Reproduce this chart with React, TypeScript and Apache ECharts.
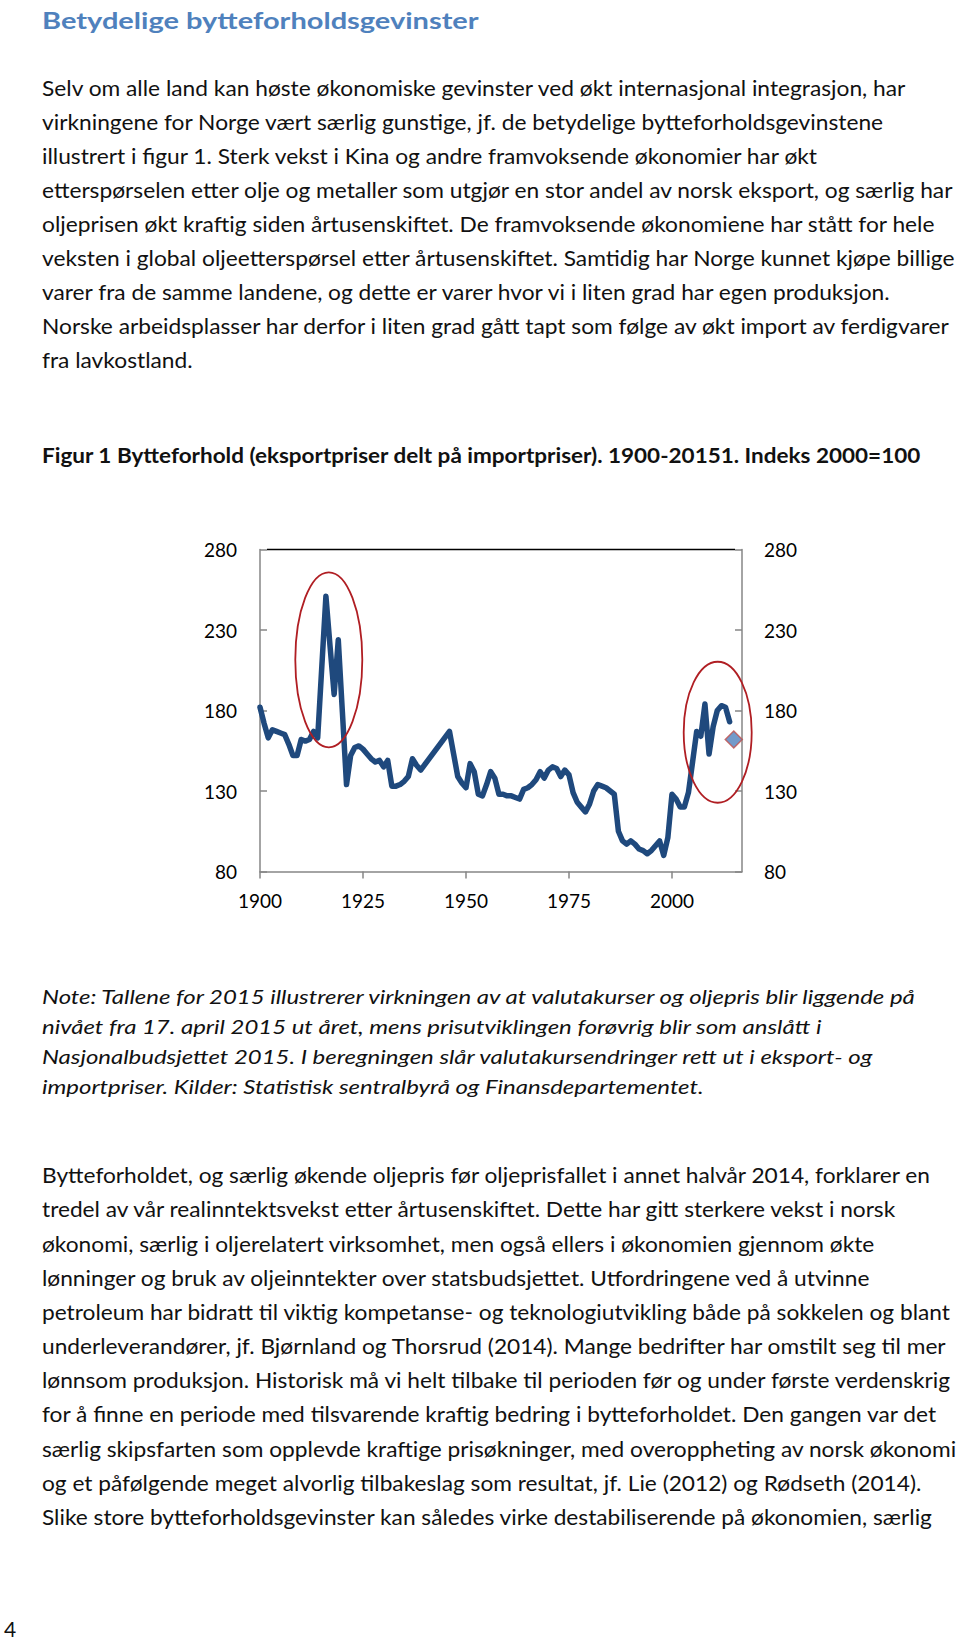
import React, { useEffect, useRef } from "react";
import * as echarts from "echarts";

// ---------- data ----------
const START_YEAR = 1900;
// Terms of trade, index 2000=100; null = no data (war years)
const TOT_VALUES: (number | null)[] = [
  182, 172, 163, 168, 167, 166, 165, 159, 152, 152, // 1900-1909
  162, 161, 162, 167, 163, 207, 251, 220, 190, 224, // 1910-1919
  179, 134, 152, 157, 158, 156, 153, 150, 148, 149, // 1920-1929
  145, 149, 133, 133, 134, 136, 139, 150, 146, 143, // 1930-1939
  null, null, null, null, null, null, 167, 153, 139, 135, // 1940-1949
  132, 147, 142, 128, 127, 134, 142, 138, 128, 128, // 1950-1959
  127, 127, 126, 125, 131, 132, 134, 137, 142, 138, // 1960-1969
  143, 145, 144, 139, 143, 140, 129, 123, 120, 117, // 1970-1979
  122, 130, 134, 133, 132, 130, 128, 105, 99, 97, // 1980-1989
  99, 97, 94, 93, 91, 93, 96, 99, 90, 101, // 1990-1999
  128, 125, 120, 120, 129, 148, 167, 164, 184, 153, // 2000-2009
  170, 180, 183, 182, 173, // 2010-2014
];
const PROJ_YEAR = [2015];
const PROJ_VALUE = [162];
const X_TICKS = [1900, 1925, 1950, 1975, 2000];
const Y_TICKS = [80, 130, 180, 230, 280];
// highlight ellipses: centre in data units, radii in px
const ELLIPSE_CENTER_YEARS = [1916.7, 2011.1];
const ELLIPSE_CENTER_VALUES = [211.5, 166.5];
const ELLIPSE_RX = [33.5, 34];
const ELLIPSE_RY = [87.5, 70.5];

// ---------- text ----------
const TITLE = "Betydelige bytteforholdsgevinster";
const PARA1 = [
  "Selv om alle land kan høste økonomiske gevinster ved økt internasjonal integrasjon, har",
  "virkningene for Norge vært særlig gunstige, jf. de betydelige bytteforholdsgevinstene",
  "illustrert i figur 1. Sterk vekst i Kina og andre framvoksende økonomier har økt",
  "etterspørselen etter olje og metaller som utgjør en stor andel av norsk eksport, og særlig har",
  "oljeprisen økt kraftig siden årtusenskiftet. De framvoksende økonomiene har stått for hele",
  "veksten i global oljeetterspørsel etter årtusenskiftet. Samtidig har Norge kunnet kjøpe billige",
  "varer fra de samme landene, og dette er varer hvor vi i liten grad har egen produksjon.",
  "Norske arbeidsplasser har derfor i liten grad gått tapt som følge av økt import av ferdigvarer",
  "fra lavkostland.",
];
const CAPTION =
  "Figur 1 Bytteforhold (eksportpriser delt på importpriser). 1900-20151. Indeks 2000=100";
const NOTE = [
  "Note: Tallene for 2015 illustrerer virkningen av at valutakurser og oljepris blir liggende på",
  "nivået fra 17. april 2015 ut året, mens prisutviklingen forøvrig blir som anslått i",
  "Nasjonalbudsjettet 2015. I beregningen slår valutakursendringer rett ut i eksport- og",
  "importpriser. Kilder: Statistisk sentralbyrå og Finansdepartementet.",
];
const PARA2 = [
  "Bytteforholdet, og særlig økende oljepris før oljeprisfallet i annet halvår 2014, forklarer en",
  "tredel av vår realinntektsvekst etter årtusenskiftet. Dette har gitt sterkere vekst i norsk",
  "økonomi, særlig i oljerelatert virksomhet, men også ellers i økonomien gjennom økte",
  "lønninger og bruk av oljeinntekter over statsbudsjettet. Utfordringene ved å utvinne",
  "petroleum har bidratt til viktig kompetanse- og teknologiutvikling både på sokkelen og blant",
  "underleverandører, jf. Bjørnland og Thorsrud (2014). Mange bedrifter har omstilt seg til mer",
  "lønnsom produksjon. Historisk må vi helt tilbake til perioden før og under første verdenskrig",
  "for å finne en periode med tilsvarende kraftig bedring i bytteforholdet. Den gangen var det",
  "særlig skipsfarten som opplevde kraftige prisøkninger, med overoppheting av norsk økonomi",
  "og et påfølgende meget alvorlig tilbakeslag som resultat, jf. Lie (2012) og Rødseth (2014).",
  "Slike store bytteforholdsgevinster kan således virke destabiliserende på økonomien, særlig",
];
const PAGE_NO = "4";

const FONT = "Lato";

function measure(text: string, font: string): number {
  const c = document.createElement("canvas");
  const ctx = c.getContext("2d");
  if (!ctx) return 1;
  ctx.font = font;
  return ctx.measureText(text).width || 1;
}

export default function App() {
  const ref = useRef<HTMLDivElement>(null);

  useEffect(() => {
    if (!ref.current) return;
    const chart = echarts.init(ref.current, undefined, { renderer: "svg" });

    const lineData = TOT_VALUES.map((v, i) => [START_YEAR + i, v]);
    const projData = PROJ_YEAR.map((y, i) => [y, PROJ_VALUE[i]]);

    const axisGray = "#868686";
    const labelStyle = { fontSize: 19, color: "#000", fontFamily: FONT };

    chart.setOption({
      animation: false,
      backgroundColor: "#fff",
      grid: { left: 260, top: 549.5, width: 482, height: 322, containLabel: false },
      xAxis: {
        type: "value",
        min: 1900,
        max: 2017,
        interval: 25,
        axisLine: { show: true, lineStyle: { color: axisGray, width: 1.5 } },
        axisTick: {
          show: true,
          inside: false,
          length: 7,
          customValues: X_TICKS,
          lineStyle: { color: axisGray, width: 1.5 },
        },
        axisLabel: {
          ...labelStyle,
          margin: 19,
          customValues: X_TICKS,
          formatter: (v: number) => String(v),
        },
        splitLine: { show: false },
      },
      yAxis: [
        {
          type: "value",
          position: "left",
          min: 80,
          max: 280,
          interval: 50,
          axisLine: { show: true, lineStyle: { color: axisGray, width: 1.5 } },
          axisTick: { show: true, inside: true, length: 7, lineStyle: { color: axisGray, width: 1.5 } },
          axisLabel: { ...labelStyle, margin: 23, customValues: Y_TICKS },
          splitLine: { show: false },
        },
        {
          type: "value",
          position: "right",
          min: 80,
          max: 280,
          interval: 50,
          axisLine: { show: true, lineStyle: { color: axisGray, width: 1.5 } },
          axisTick: { show: true, inside: true, length: 7, lineStyle: { color: axisGray, width: 1.5 } },
          axisLabel: { ...labelStyle, margin: 22, customValues: Y_TICKS },
          splitLine: { show: false },
        },
      ],
      series: [
        {
          type: "line",
          yAxisIndex: 0,
          data: lineData,
          connectNulls: true,
          symbol: "none",
          showSymbol: false,
          lineStyle: { color: "#1F497D", width: 5.5, cap: "round", join: "round" },
          z: 3,
        },
        {
          type: "scatter",
          yAxisIndex: 0,
          data: projData,
          symbol: "diamond",
          symbolSize: 17,
          itemStyle: { color: "#4F81BD", borderColor: "#C0504D", borderWidth: 1.5 },
          z: 4,
        },
      ],
    });

    // ---------- page texts & annotations ----------
    const bodyFont = `21px ${FONT}`;
    const boldFont = `bold 21px ${FONT}`;
    const italicFont = `italic 20px ${FONT}`;
    const titleFont = `bold 23px ${FONT}`;

    const sBody1 = 866 / measure(PARA1[0], bodyFont);
    const sBody2 = 890 / measure(PARA2[0], bodyFont);
    const sCap = 880 / measure(CAPTION, boldFont);
    const sNote = 878 / measure(NOTE[0], italicFont);
    const sTitle = 437 / measure(TITLE, titleFont);

    const textEl = (text: string, x: number, y: number, font: string, fill: string, sx: number) => ({
      type: "text",
      x,
      y,
      scaleX: sx,
      silent: true,
      style: {
        text,
        x: 0,
        y: 0,
        font,
        fill,
        align: "left",
        verticalAlign: "middle",
        textAlign: "left",
        textVerticalAlign: "middle",
      },
    });

    const textColor = "#111";
    const graphics: any[] = [];
    graphics.push(textEl(TITLE, 42, 20, titleFont, "#4F81BD", sTitle));
    PARA1.forEach((t, i) => graphics.push(textEl(t, 42, 88 + 33.94 * i, bodyFont, textColor, sBody1)));
    graphics.push(textEl(CAPTION, 42, 455, boldFont, textColor, sCap));
    NOTE.forEach((t, i) => graphics.push(textEl(t, 42, 996 + 30 * i, italicFont, textColor, sNote)));
    PARA2.forEach((t, i) => graphics.push(textEl(t, 42, 1175 + 34.17 * i, bodyFont, textColor, sBody2)));
    graphics.push(textEl(PAGE_NO, 4, 1628, bodyFont, textColor, 1));

    // top border of plot area (black, inset like the original)
    const tl = chart.convertToPixel({ gridIndex: 0 }, [1900, 280]) as number[];
    const tr = chart.convertToPixel({ gridIndex: 0 }, [2017, 280]) as number[];
    graphics.push({
      type: "line",
      silent: true,
      z: 2,
      shape: { x1: tl[0] + 7, y1: tl[1], x2: tr[0] - 7, y2: tr[1] },
      style: { stroke: "#000", lineWidth: 1.5 },
    });

    ELLIPSE_CENTER_YEARS.forEach((yr, i) => {
      const c = chart.convertToPixel({ gridIndex: 0 }, [yr, ELLIPSE_CENTER_VALUES[i]]) as number[];
      graphics.push({
        type: "ellipse",
        silent: true,
        z: 10,
        shape: { cx: c[0], cy: c[1], rx: ELLIPSE_RX[i], ry: ELLIPSE_RY[i] },
        style: { fill: "none", stroke: "#B01E23", lineWidth: 1.8 },
      });
    });

    chart.setOption({ graphic: graphics });

    return () => {
      chart.dispose();
    };
  }, []);

  return (
    <div
      ref={ref}
      style={{ position: "absolute", left: 0, top: 0, width: 960, height: 1644, background: "#fff" }}
    />
  );
}
